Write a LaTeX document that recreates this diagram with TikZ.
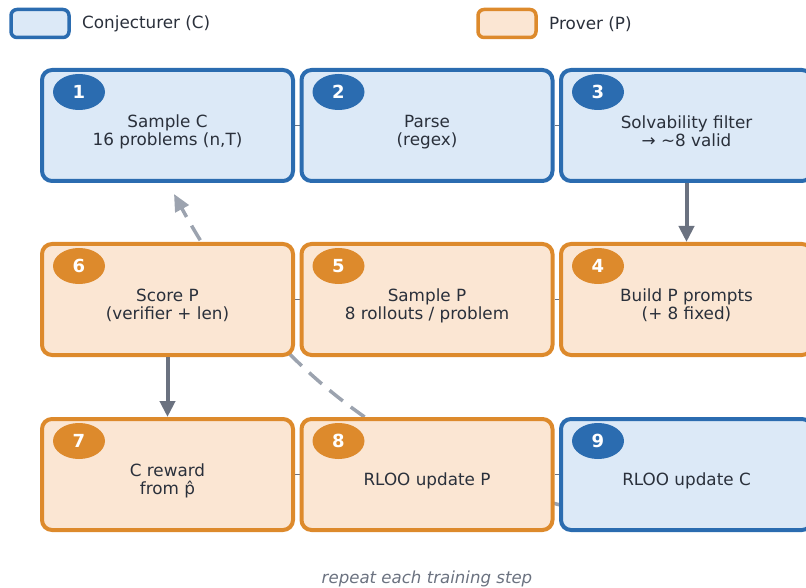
\documentclass[tikz,border=0pt]{standalone}
\usepackage{fontspec}
\setmainfont{DejaVu Sans}
\usetikzlibrary{arrows.meta}
\usetikzlibrary{shapes.geometric}
\usetikzlibrary{calc}
\usetikzlibrary{backgrounds}
\definecolor{cblue}{HTML}{2B6CB0}
\definecolor{cbluefill}{HTML}{DCE9F7}
\definecolor{porange}{HTML}{DD8A2C}
\definecolor{porangefill}{HTML}{FBE6D3}
\definecolor{ink}{HTML}{2A303B}
\definecolor{flowgray}{HTML}{6B7280}
\definecolor{loopgray}{HTML}{9CA3AF}
\newcommand{\tallstrut}{\rule{0pt}{25pt}}

\begin{document}
\begin{tikzpicture}[x=1pt, y=-1pt,
  every node/.style={font=\fontsize{16.8}{18}\selectfont, text=ink},
  stage/.style={draw, line width=4pt, rounded corners=10pt,
    minimum width=251pt, minimum height=111pt, align=center, inner sep=0pt},
  cstage/.style={stage, draw=cblue, fill=cbluefill},
  pstage/.style={stage, draw=porange, fill=porangefill},
  keybox/.style={draw, line width=3.5pt, rounded corners=6pt,
    minimum width=58pt, minimum height=28pt, inner sep=0pt},
  badge/.style={ellipse, minimum width=52pt, minimum height=36pt, inner sep=0pt,
    text=white, font=\fontsize{18}{18}\selectfont\bfseries},
  flow/.style={draw=flowgray, line width=4pt, -{Triangle[length=16pt,width=15pt]}},
  hop/.style={draw=flowgray, line width=1.5pt},
  loopback/.style={draw=loopgray, line width=3.5pt, dash pattern=on 17pt off 10pt,
    -{Triangle[length=17pt,width=15pt]}}
]
\useasboundingbox (0,0) rectangle (806,588);

% legend
\node[keybox, draw=cblue, fill=cbluefill] (keyc) at (40,23.5) {};
\node[anchor=west, inner sep=0pt] (keyctext) at (82,24) {Conjecturer (C)};
\node[keybox, draw=porange, fill=porangefill] (keyp) at (507,23.5) {};
\node[anchor=west, inner sep=0pt] (keyptext) at (549,24) {Prover (P)};

% stages
\node[cstage] (b1) at (167.5,125.5) {\tallstrut Sample C\\16 problems (n,T)};
\node[cstage] (b2) at (427,125.5) {\tallstrut Parse\\(regex)};
\node[cstage] (b3) at (686.5,125.5) {\tallstrut Solvability filter\\→ \textasciitilde8 valid};
\node[pstage] (b4) at (686.5,299.5) {\tallstrut Build P prompts\\(+ 8 fixed)};
\node[pstage] (b5) at (427,299.5) {\tallstrut Sample P\\8 rollouts / problem};
\node[pstage] (b6) at (167.5,299.5) {\tallstrut Score P\\(verifier + len)};
\node[pstage] (b7) at (167.5,474.5) {\tallstrut C reward\\from p̂};
\node[pstage] (b8) at (427,474.5) {\tallstrut RLOO update P};
\node[cstage] (b9) at (686.5,474.5) {\tallstrut RLOO update C};

% badges
\node[badge, fill=cblue] (n1) at ($(b1.north west)+(39,24)$) {1};
\node[badge, fill=cblue] (n2) at ($(b2.north west)+(39,24)$) {2};
\node[badge, fill=cblue] (n3) at ($(b3.north west)+(39,24)$) {3};
\node[badge, fill=porange] (n4) at ($(b4.north west)+(39,24)$) {4};
\node[badge, fill=porange] (n5) at ($(b5.north west)+(39,24)$) {5};
\node[badge, fill=porange] (n6) at ($(b6.north west)+(39,24)$) {6};
\node[badge, fill=porange] (n7) at ($(b7.north west)+(39,24)$) {7};
\node[badge, fill=porange] (n8) at ($(b8.north west)+(39,24)$) {8};
\node[badge, fill=cblue] (n9) at ($(b9.north west)+(39,24)$) {9};

% connectors
\draw[flow] (b3) -- (b4);
\draw[flow] (b6) -- (b7);
\coordinate (loopstart) at ($(b9.south)+(-46.5,-12)$);
\coordinate (loopend) at ($(b1.south)+(6.5,11)$);
\begin{pgfonlayer}{background}
\draw[hop] (b1) -- (b2);
\draw[hop] (b2) -- (b3);
\draw[hop] (b4) -- (b5);
\draw[hop] (b5) -- (b6);
\draw[hop] (b7) -- (b8);
\draw[hop] (b8) -- (b9);
\draw[loopback]
     (loopstart)
  .. controls (433,493) and (278,385) .. (loopend);
\end{pgfonlayer}

\node[font=\fontsize{16.6}{19}\selectfont\itshape, text=flowgray] (caption)
  at (427,579) {repeat each training step};
\end{tikzpicture}
\end{document}
